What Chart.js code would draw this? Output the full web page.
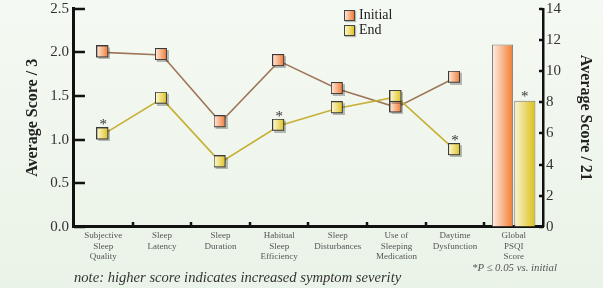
<!DOCTYPE html>
<html><head><meta charset="utf-8">
<script src="https://cdn.jsdelivr.net/npm/chart.js@4.4.1/dist/chart.umd.min.js"></script>
<style>
html,body{margin:0;padding:0;}
body{width:603px;height:288px;overflow:hidden;background:linear-gradient(#f5f9f3,#eaf3e7);position:relative;font-family:"Liberation Serif","Times New Roman",serif;}
#c{position:absolute;left:0;top:0;}
.box{position:absolute;width:9px;height:9px;border:1px solid #444;box-shadow:1px 1px 1px rgba(0,0,0,0.25);}
.lt{position:absolute;font-size:14px;line-height:14px;color:#222;white-space:nowrap;}
.note{position:absolute;left:74px;top:270px;font-size:14.6px;line-height:15px;font-style:italic;color:#333;white-space:nowrap;}
.sig{position:absolute;left:472px;top:262px;font-size:10.8px;line-height:11px;font-style:italic;color:#555;white-space:nowrap;}
</style></head>
<body>
<canvas id="c" width="603" height="288"></canvas>
<div class="box" style="left:344px;top:10px;background:linear-gradient(to right,#fde4d4,#f27a35);"></div>
<div class="lt" style="left:359px;top:8px;">Initial</div>
<div class="box" style="left:344px;top:25px;background:linear-gradient(to right,#fbf6d0,#e2c420);"></div>
<div class="lt" style="left:359px;top:23px;">End</div>
<div class="note">note: higher score indicates increased symptom severity</div>
<div class="sig">*P ≤ 0.05 vs. initial</div>
<script>
const categories = [
  ["Subjective","Sleep","Quality"],
  ["Sleep","Latency"],
  ["Sleep","Duration"],
  ["Habitual","Sleep","Efficiency"],
  ["Sleep","Disturbances"],
  ["Use of","Sleeping","Medication"],
  ["Daytime","Dysfunction"],
  ["Global","PSQI","Score"]
];
const initialComponent = [2.00, 1.97, 1.20, 1.90, 1.58, 1.37, 1.71, null];
const endComponent     = [1.06, 1.47, 0.74, 1.16, 1.36, 1.49, 0.88, null];
const initialGlobal    = [null, null, null, null, null, null, null, 11.7];
const endGlobal        = [null, null, null, null, null, null, null, 8.1];
const endSignificant   = [true, false, false, true, false, false, true, true];

const SERIF = '"Liberation Serif","Times New Roman",serif';

function makePoint(c1, c2) {
  const cv = document.createElement('canvas');
  cv.width = 14; cv.height = 14;
  const g = cv.getContext('2d');
  g.fillStyle = 'rgba(0,0,0,0.25)';
  g.fillRect(2, 2, 12, 12);
  const gr = g.createLinearGradient(1, 0, 12, 0);
  gr.addColorStop(0, c1); gr.addColorStop(1, c2);
  g.fillStyle = gr;
  g.fillRect(1, 1, 11, 11);
  g.strokeStyle = '#3a3a3a'; g.lineWidth = 1;
  g.strokeRect(0.5, 0.5, 11, 11);
  return cv;
}
const ptInitial = makePoint('#fde4d4', '#f27a35');
const ptEnd = makePoint('#fbf6d0', '#e0c21e');

function barGrad(side, c1, c2) {
  return function(ctx) {
    const chart = ctx.chart;
    const xs = chart.scales && chart.scales.x;
    if (!xs) return c2;
    const c = xs.getPixelForValue(7);
    const w = xs.width / categories.length * 0.38;
    if (!isFinite(c) || !isFinite(w) || w <= 0) return c2;
    const x0 = side < 0 ? c - w : c;
    const g = chart.ctx.createLinearGradient(x0, 0, x0 + w, 0);
    g.addColorStop(0, c1); g.addColorStop(1, c2);
    return g;
  };
}

// inward tick marks drawn from the library's scales
const tickPlugin = {
  id: 'inwardTicks',
  beforeDatasetsDraw(chart) {
    const ctx = chart.ctx, a = chart.chartArea;
    const {x, y, y2} = chart.scales;
    ctx.save();
    ctx.strokeStyle = '#111';
    ctx.lineWidth = 2.5;
    ctx.beginPath();
    y.ticks.forEach(t => {
      const py = Math.round(y.getPixelForValue(t.value));
      ctx.moveTo(a.left, py); ctx.lineTo(a.left + 11, py);
    });
    y2.ticks.forEach(t => {
      const py = Math.round(y2.getPixelForValue(t.value));
      ctx.moveTo(a.right - 4, py); ctx.lineTo(a.right, py);
    });
    for (let i = 1; i < categories.length; i++) {
      const px = Math.round((x.getPixelForValue(i - 1) + x.getPixelForValue(i)) / 2);
      ctx.moveTo(px, a.bottom); ctx.lineTo(px, a.bottom - 5);
    }
    ctx.stroke();
    ctx.restore();
  }
};

const starPlugin = {
  id: 'stars',
  afterDatasetsDraw(chart) {
    const ctx = chart.ctx;
    ctx.save();
    ctx.font = '15px ' + SERIF;
    ctx.fillStyle = '#333';
    ctx.textAlign = 'center';
    ctx.textBaseline = 'middle';
    const lineMeta = chart.getDatasetMeta(1);
    const barMeta = chart.getDatasetMeta(3);
    endSignificant.forEach((s, i) => {
      if (!s) return;
      const isLine = endComponent[i] !== null;
      const el = isLine ? lineMeta.data[i] : barMeta.data[i];
      if (!el) return;
      ctx.fillText('*', el.x, el.y - (isLine ? 9 : 4));
    });
    ctx.restore();
  }
};

new Chart(document.getElementById('c'), {
  type: 'bar',
  data: {
    labels: categories,
    datasets: [
      { type: 'line', label: 'Initial', data: initialComponent, yAxisID: 'y',
        borderColor: '#a0765a', borderWidth: 1.6, pointStyle: ptInitial, pointRadius: 7,
        spanGaps: false, order: 2 },
      { type: 'line', label: 'End', data: endComponent, yAxisID: 'y',
        borderColor: '#c6b035', borderWidth: 1.6, pointStyle: ptEnd, pointRadius: 7,
        spanGaps: false, order: 1 },
      { type: 'bar', label: 'Initial', data: initialGlobal, yAxisID: 'y2',
        backgroundColor: barGrad(-1, '#fff3ec', '#f2782c'), borderColor: '#777', borderWidth: 1,
        categoryPercentage: 0.76, barPercentage: 0.95 },
      { type: 'bar', label: 'End', data: endGlobal, yAxisID: 'y2',
        backgroundColor: barGrad(1, '#faf6dc', '#dcbe12'), borderColor: '#777', borderWidth: 1,
        categoryPercentage: 0.76, barPercentage: 0.95 }
    ]
  },
  options: {
    responsive: false,
    animation: false,
    devicePixelRatio: 1,
    layout: { padding: { left: 19, right: 4, top: 0, bottom: 22 } },
    plugins: { legend: { display: false }, tooltip: { enabled: false } },
    scales: {
      x: {
        offset: true,
        grid: { offset: true, drawOnChartArea: false, drawTicks: false },
        border: { color: '#111', width: 3 },
        ticks: { autoSkip: false, maxRotation: 0, padding: 4, color: '#555',
                 font: { family: SERIF, size: 9, lineHeight: 1.15 } }
      },
      y: {
        position: 'left', min: 0, max: 2.5,
        grid: { drawOnChartArea: false, drawTicks: false },
        border: { color: '#111', width: 3 },
        ticks: { stepSize: 0.5, padding: 5, color: '#333', font: { family: SERIF, size: 15, lineHeight: 0.5 },
                 callback: v => Number(v).toFixed(1) },
        title: { display: true, text: 'Average Score / 3', color: '#222',
                 font: { family: SERIF, size: 16, weight: 'bold' }, padding: { top: 4, bottom: 3 } }
      },
      y2: {
        position: 'right', min: 0, max: 14,
        grid: { drawOnChartArea: false, drawTicks: false },
        border: { color: '#111', width: 2.5 },
        ticks: { stepSize: 2, padding: 3, color: '#333', font: { family: SERIF, size: 15, lineHeight: 0.5 } },
        title: { display: true, text: 'Average Score / 21', color: '#222',
                 font: { family: SERIF, size: 16, weight: 'bold' }, padding: { top: 4.4, bottom: 11.4 } }
      }
    }
  },
  plugins: [tickPlugin, starPlugin]
});
</script>
</body></html>
